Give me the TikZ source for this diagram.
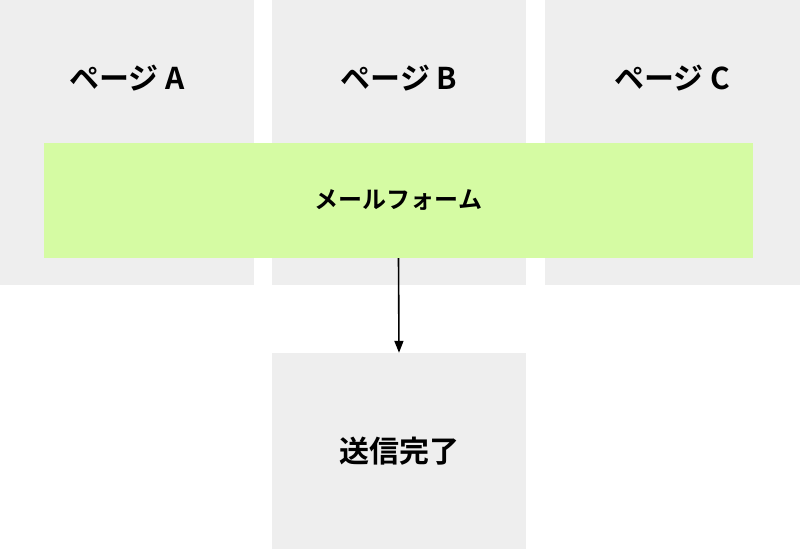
\documentclass[tikz,border=0pt]{standalone}
\usepackage{fontspec}
\newfontfamily\cjk{Noto Sans CJK JP Bold}
\usetikzlibrary{arrows.meta}
\definecolor{boxgray}{HTML}{EEEEEE}
\definecolor{formgreen}{HTML}{D5FBA3}
\begin{document}
\begin{tikzpicture}[x=1pt,y=-1pt,
  pagebox/.style={fill=boxgray,draw=none},
  lbl/.style={font=\cjk\fontsize{30}{36}\selectfont},
  flbl/.style={font=\cjk\fontsize{24}{28}\selectfont}]
\useasboundingbox (0,0) rectangle (800,549);
\fill[pagebox] (0,0) rectangle (254,285);
\fill[pagebox] (272,0) rectangle (526,285);
\fill[pagebox] (545,0) rectangle (800,285);
\fill[pagebox] (272,353) rectangle (526,549);
\node[lbl] (pa) at (127,78) {ページ A};
\node[lbl] (pb) at (399,78) {ページ B};
\node[lbl] (pc) at (672,78) {ページ C};
\node[fill=formgreen,minimum width=709pt,minimum height=115pt,inner sep=0pt,flbl] (form) at (398.5,200.5) {メールフォーム};
\node[minimum width=254pt,minimum height=196pt,inner sep=0pt,lbl] (done) at (399,451) {送信完了};
\draw[line width=1.6pt,-{Triangle[length=12pt,width=9pt]}] (form.south) -- (done.north);
\end{tikzpicture}
\end{document}
